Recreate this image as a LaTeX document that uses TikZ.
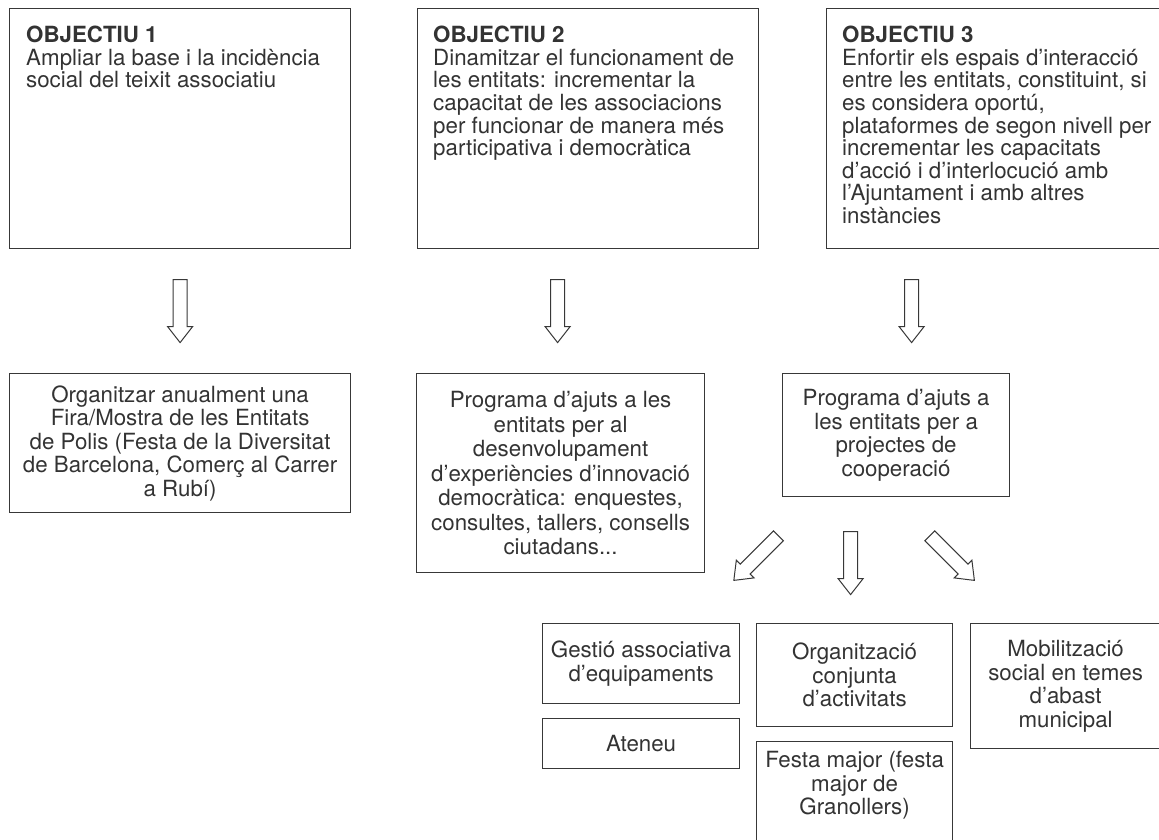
\documentclass[tikz,border=0pt]{standalone}
\usepackage{fontspec}
\setmainfont{TeX Gyre Heros}
\usetikzlibrary{calc}
\definecolor{ink}{HTML}{333333}
\definecolor{rule}{HTML}{383838}
\newcommand{\headfont}{\fontsize{22.3}{22.6}\selectfont}
\newcommand{\bodyfont}{\fontsize{22.3}{23.5}\selectfont}
\newcommand{\loosefont}{\fontsize{22.3}{24.5}\selectfont}

\tikzset{
  box/.style={draw=rule, line width=1.2pt, inner sep=0pt, text=ink,
    font=\bodyfont, align=center, anchor=north west},
  objtext/.style={anchor=north west, inner sep=0pt, text=ink,
    font=\headfont, align=left},
  blockarrow/.pic={
    \draw[draw=rule, line width=1pt, fill=white, line join=miter]
      (-7,-31.5) -- (-7,15.5) -- (-12.5,15.5) -- (0,31.5)
      -- (12.5,15.5) -- (7,15.5) -- (7,-31.5) -- cycle;
  }
}

\begin{document}
\begin{tikzpicture}[x=1pt,y=-1pt]
\useasboundingbox (0,0) rectangle (1159,839);

% objectives
\node[box, minimum width=341pt, minimum height=240pt] (o1) at (9,8) {};
\node[box, minimum width=341pt, minimum height=240pt] (o2) at (417,8) {};
\node[box, minimum width=334pt, minimum height=240pt] (o3) at (826,8) {};

\node[objtext] (o1t) at ($(o1.north west)+(17,18)$)
  {\textbf{OBJECTIU 1}\\
   Ampliar la base i la incidència\\
   social del teixit associatiu};
\node[objtext] (o2t) at ($(o2.north west)+(16,18)$)
  {\textbf{OBJECTIU 2}\\
   Dinamitzar el funcionament de\\
   les entitats: incrementar la\\
   capacitat de les associacions\\
   per funcionar de manera més\\
   participativa i democràtica};
\node[objtext] (o3t) at ($(o3.north west)+(16,18)$)
  {\textbf{OBJECTIU 3}\\
   Enfortir els espais d’interacció\\
   entre les entitats, constituint, si\\
   es considera oportú,\\
   plataformes de segon nivell per\\
   incrementar les capacitats\\
   d’acció i d’interlocució amb\\
   l’Ajuntament i amb altres\\
   instàncies};

% actions
\node[box, minimum width=341pt, minimum height=139pt] (a1) at (9,373)
  {Organitzar anualment una\\
   Fira/Mostra de les Entitats\\
   de Polis (Festa de la Diversitat\\
   de Barcelona, Comerç al Carrer\\
   a Rubí)};
\node[box, font=\loosefont, minimum width=288pt, minimum height=199pt] (a2) at (416,373)
  {Programa d’ajuts a les\\
   entitats per al\\
   desenvolupament\\
   d’experiències d’innovació\\
   democràtica: enquestes,\\
   consultes, tallers, consells\\
   ciutadans...};
\node[box, minimum width=227pt, minimum height=123pt] (a3) at (782,373)
  {Programa d’ajuts a\\
   les entitats per a\\
   projectes de\\
   cooperació};

% cooperation lines
\node[box, minimum width=197pt, minimum height=80pt] (b1) at (542,623)
  {Gestió associativa\\ d’equipaments};
\node[box, minimum width=197pt, minimum height=50pt] (b2) at (542,718)
  {Ateneu};
\node[box, minimum width=196pt, minimum height=103pt] (c1) at (756,623)
  {Organització\\ conjunta\\ d’activitats};
\node[box, minimum width=196pt, minimum height=112pt] (c2) at (756,741)
  {\parbox[c][112pt][t]{196pt}{\centering\vspace*{10pt}%
   Festa major (festa\\ major de\\ Granollers)}};
\node[box, minimum width=190pt, minimum height=125pt] (d1) at (970,623)
  {Mobilització\\ social en temes\\ d’abast\\ municipal};

% block arrows
\pic at ($(o1.south)!0.5!(o1.south |- a1.north)$) {blockarrow};
\pic at ($(a2.north)!0.5!(a2.north |- o2.south)+(-3,0)$) {blockarrow};
\pic at ($(a3.north)!0.5!(a3.north |- o3.south)+(15.5,0)$) {blockarrow};

\coordinate (split) at ($(a3.south)!0.5!(a3.south |- c1.north)$);
\pic[rotate=-45] at ($(split)+(-140,-2)$) {blockarrow};
\pic at ($(split)+(-45.5,3)$) {blockarrow};
\pic[rotate=45] at ($(split)+(56,-2)$) {blockarrow};
\end{tikzpicture}
\end{document}
